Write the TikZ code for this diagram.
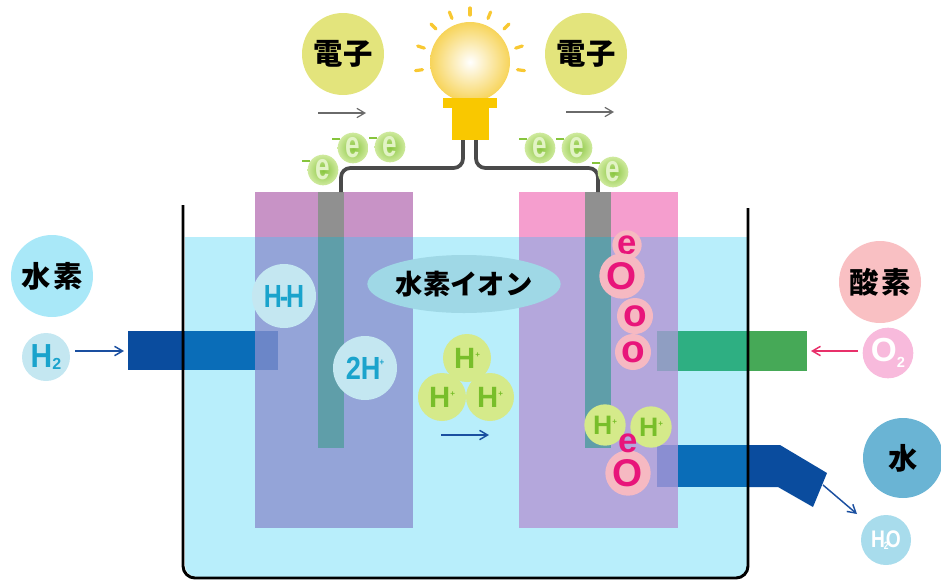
\documentclass[tikz,border=0pt]{standalone}
\usepackage{fontspec}
\setmainfont{Liberation Sans}
\newfontfamily\jp{Noto Sans CJK JP}
\usetikzlibrary{arrows.meta,shapes.geometric,calc}

\definecolor{water}{HTML}{B8EEFB}
\definecolor{anodetop}{HTML}{C893C6}
\definecolor{anodein}{HTML}{94A4D8}
\definecolor{cathtop}{HTML}{F59ECE}
\definecolor{cathin}{HTML}{B4A7DC}
\definecolor{rodtop}{HTML}{909090}
\definecolor{rodin}{HTML}{5F9EA9}
\definecolor{wire}{HTML}{4A4A4A}
\definecolor{pipedark}{HTML}{0A4C9E}
\definecolor{pipemid}{HTML}{0A6DB8}
\definecolor{pipeel}{HTML}{6B86C8}
\definecolor{greenout}{HTML}{46A957}
\definecolor{greenin}{HTML}{2EAF82}
\definecolor{greenel}{HTML}{8F9EC2}
\definecolor{waterel}{HTML}{8A8ED2}
\definecolor{bulbbase}{HTML}{F9C800}
\definecolor{bulbglow}{HTML}{F7D45A}
\definecolor{ray}{HTML}{F8C832}
\definecolor{elecball}{HTML}{E3E47C}
\definecolor{hydball}{HTML}{A9E8F8}
\definecolor{oxyball}{HTML}{F9C0C3}
\definecolor{wball}{HTML}{6AB4D4}
\definecolor{molball}{HTML}{C4E7F1}
\definecolor{cyantext}{HTML}{1AA3CC}
\definecolor{ionball}{HTML}{9FD8E6}
\definecolor{hplusball}{HTML}{D5EA8A}
\definecolor{hplustext}{HTML}{78BE2A}
\definecolor{egreen}{HTML}{86C43C}
\definecolor{eglow}{HTML}{CFEA9E}
\definecolor{pinktext}{HTML}{E8157A}
\definecolor{pinkhalo}{HTML}{F6B9C2}
\definecolor{o2ball}{HTML}{F8BADC}
\definecolor{h2oball}{HTML}{A8DCEC}
\definecolor{arrgrey}{HTML}{6A6A6A}
\definecolor{arrblue}{HTML}{1A4FA0}
\definecolor{arrred}{HTML}{E8306A}

\begin{document}
\begin{tikzpicture}[x=0.75pt,y=-0.75pt,
  jpfont/.style={font=\jp\bfseries\fontsize{20.5pt}{22pt}\selectfont},
  bigball/.style={circle,inner sep=0pt,minimum size=61.5pt,
    font=\jp\bfseries\fontsize{22pt}{24pt}\selectfont},
  molball/.style={circle,inner sep=0pt,fill=molball,text=cyantext,
    font=\bfseries\fontsize{24pt}{24pt}\selectfont},
  hplus/.style={circle,inner sep=0pt,minimum size=36pt,fill=hplusball,text=hplustext,
    font=\bfseries\fontsize{22pt}{22pt}\selectfont},
  electron/.style={circle,inner sep=0pt,minimum size=23pt,shading=radial,
    inner color=egreen,outer color=eglow,text=eglow!60!white,
    font=\bfseries\fontsize{28pt}{28pt}\selectfont},
  edash/.style={draw=egreen,line width=1.3pt},
  oatom/.style={circle,inner sep=0pt,fill=pinkhalo,text=pinktext,
    font=\bfseries\fontsize{29pt}{29pt}\selectfont},
  flow/.style={line width=1.1pt,-{Straight Barb[length=6pt,width=7pt]}},
  wireline/.style={draw=wire,line width=2.8pt,rounded corners=7pt},
  ray/.style={draw=ray,line width=2.4pt,line cap=round}]

\useasboundingbox (0,0) rectangle (941,579);

% electrolyte
\fill[water,rounded corners=9pt] (185,237) -- (185,577) -- (748,577) -- (748,237) -- cycle;
\fill[water] (185,237) rectangle (748,300);

% electrodes: part above the liquid and part inside it
\fill[anodetop] (255,192) rectangle (413,237);
\fill[anodein]  (255,237) rectangle (413,528);
\fill[cathtop]  (519,192) rectangle (678,237);
\fill[cathin]   (519,237) rectangle (678,528);

% current collector rods
\fill[rodtop] (318,192) rectangle (344,237);
\fill[rodin]  (318,237) rectangle (344,448);
\fill[rodtop] (585,192) rectangle (611,237);
\fill[rodin]  (585,237) rectangle (611,448);

% hydrogen inlet pipe
\fill[pipedark] (128,331) rectangle (185,370);
\fill[pipemid]  (185,331) rectangle (255,370);
\fill[pipeel]   (255,331) rectangle (278,370);

% oxygen inlet pipe
\fill[greenel] (657,331) rectangle (678,371);
\fill[greenin] (678,331) rectangle (748,371);
\fill[greenout] (748,331) rectangle (807,371);

% water outlet pipe
\fill[waterel] (657,445) rectangle (678,487);
\fill[pipemid] (678,445) rectangle (748,487);
\fill[pipedark] (748,445) -- (780,445) -- (827,473) -- (813,507) -- (778,487) -- (748,487) -- cycle;

% vessel wall
\draw[black,line width=2.2pt,rounded corners=9pt] (183,205) -- (183,578) -- (748,578) -- (748,208);

% bulb
\foreach \a in {-8,18,45,68,90,112,135,162,188}
  \draw[ray] ($(470,63)+(\a:-48)$) -- ($(470,63)+(\a:-55)$);
\node[circle,minimum size=60pt,inner sep=0pt,shading=radial,
  inner color=white,outer color=bulbglow] (globe) at (470,62) {};
\fill[bulbbase] (443,98) rectangle (497,108);
\fill[bulbbase] (452,108) rectangle (489,140);
\coordinate (bulbL) at (463,140);
\coordinate (bulbR) at (476,140);

% wires
\coordinate (rodL) at (341,192);
\coordinate (rodR) at (598,192);
\draw[wireline] (rodL) -- (341,168) -- (463,168) -- (bulbL);
\draw[wireline] (bulbR) -- (476,168) -- (598,168) -- (rodR);

% electron labels
\node[bigball,fill=elecball] (elecL) at (343,54) {電\hspace{1pt}子};
\node[bigball,fill=elecball] (elecR) at (586,54) {電\hspace{1pt}子};
\coordinate (eaL1) at (318,113); \coordinate (eaL2) at (366,113);
\coordinate (eaR1) at (566,112); \coordinate (eaR2) at (614,112);
\draw[flow,arrgrey,line width=0.9pt] (eaL1) -- (eaL2);
\draw[flow,arrgrey,line width=0.9pt] (eaR1) -- (eaR2);

% electrons on the wires
\foreach \n/\x/\y in {a/323/170,b/353/148,c/390/147,d/540/148,e/577/148,f/613/172}{
  \draw[edash] (\x-21,\y-9) -- (\x-13,\y-9);
  \node[electron] (el\n) at (\x,\y) {\scalebox{0.7}[1]{e}};
}

% hydrogen side
\node[bigball,fill=hydball] (hyd) at (52,276) {水\hspace{2pt}素};
\node[circle,inner sep=0pt,minimum size=36pt,fill=molball,text=cyantext,
  font=\bfseries\fontsize{25pt}{25pt}\selectfont] (h2) at (46,357)
  {\scalebox{0.9}[1]{H}\raisebox{-1pt}{\fontsize{12pt}{12pt}\selectfont 2}};
\coordinate (h2a) at (75,351); \coordinate (h2b) at (124,351);
\draw[flow,arrblue] (h2a) -- (h2b);

% oxygen side
\node[bigball,fill=oxyball] (oxy) at (880,282) {酸\hspace{2pt}素};
\node[circle,inner sep=0pt,minimum size=38pt,fill=o2ball,text=white,
  font=\bfseries\fontsize{25pt}{25pt}\selectfont] (o2) at (888,353)
  {O\raisebox{-4pt}{\fontsize{11pt}{11pt}\selectfont 2}};
\coordinate (o2a) at (858,351); \coordinate (o2b) at (811,351);
\draw[flow,arrred] (o2a) -- (o2b);

% water side
\node[bigball,fill=wball,minimum size=60pt] (wat) at (903,458) {水};
\node[circle,inner sep=0pt,minimum size=37.5pt,fill=h2oball,text=white,
  font=\bfseries\fontsize{18pt}{18pt}\selectfont] (h2o) at (886,540)
  {\scalebox{0.8}[1]{H\kern-1pt\raisebox{-1pt}{\fontsize{8pt}{8pt}\selectfont 2}\kern-2.5pt O}};
\coordinate (wa) at (823,485); \coordinate (wb) at (857,514);
\draw[flow,arrblue] (wa) -- (wb);

% anode reaction
\node[molball,minimum size=48pt] (hh) at (284,296)
  {\scalebox{0.78}[1]{H\kern-2pt-\kern-2pt H}};
\node[molball,minimum size=48pt] (twoh) at (365,368)
  {\scalebox{0.85}[1]{2H\kern-1pt\raisebox{10pt}{\fontsize{7pt}{7pt}\selectfont +}}};

% ions crossing the electrolyte
\node[ellipse,fill=ionball,minimum width=111pt,minimum height=43.5pt,inner sep=0pt,jpfont]
  (ion) at (464,284) {水素イオン};
\node[hplus] (hp1) at (467,358) {H\raisebox{8pt}{\fontsize{6pt}{6pt}\selectfont +}};
\node[hplus] (hp2) at (442,397) {H\raisebox{8pt}{\fontsize{6pt}{6pt}\selectfont +}};
\node[hplus] (hp3) at (490,397) {H\raisebox{8pt}{\fontsize{6pt}{6pt}\selectfont +}};
\coordinate (ia) at (441,435); \coordinate (ib) at (489,435);
\draw[flow,arrblue] (ia) -- (ib);

% cathode reaction
\node[oatom,minimum size=22pt,font=\bfseries\fontsize{26pt}{26pt}\selectfont] (ce1) at (627,245) {e};
\node[oatom,minimum size=34pt] (co1) at (622,276) {O};
\node[oatom,minimum size=27pt] (co2) at (635,316) {o};
\node[oatom,minimum size=27pt] (co3) at (633,352) {o};
\node[hplus,minimum size=31pt,font=\bfseries\fontsize{20pt}{20pt}\selectfont] (hp4) at (605,425)
  {H\raisebox{7pt}{\fontsize{6pt}{6pt}\selectfont +}};
\node[hplus,minimum size=31pt,font=\bfseries\fontsize{20pt}{20pt}\selectfont] (hp5) at (651,427)
  {H\raisebox{7pt}{\fontsize{6pt}{6pt}\selectfont +}};
\node[oatom,minimum size=34pt] (co4) at (628,473) {O};
\node[oatom,minimum size=22pt,fill=none,font=\bfseries\fontsize{26pt}{26pt}\selectfont] (ce2) at (628,443) {e};

\end{tikzpicture}
\end{document}
